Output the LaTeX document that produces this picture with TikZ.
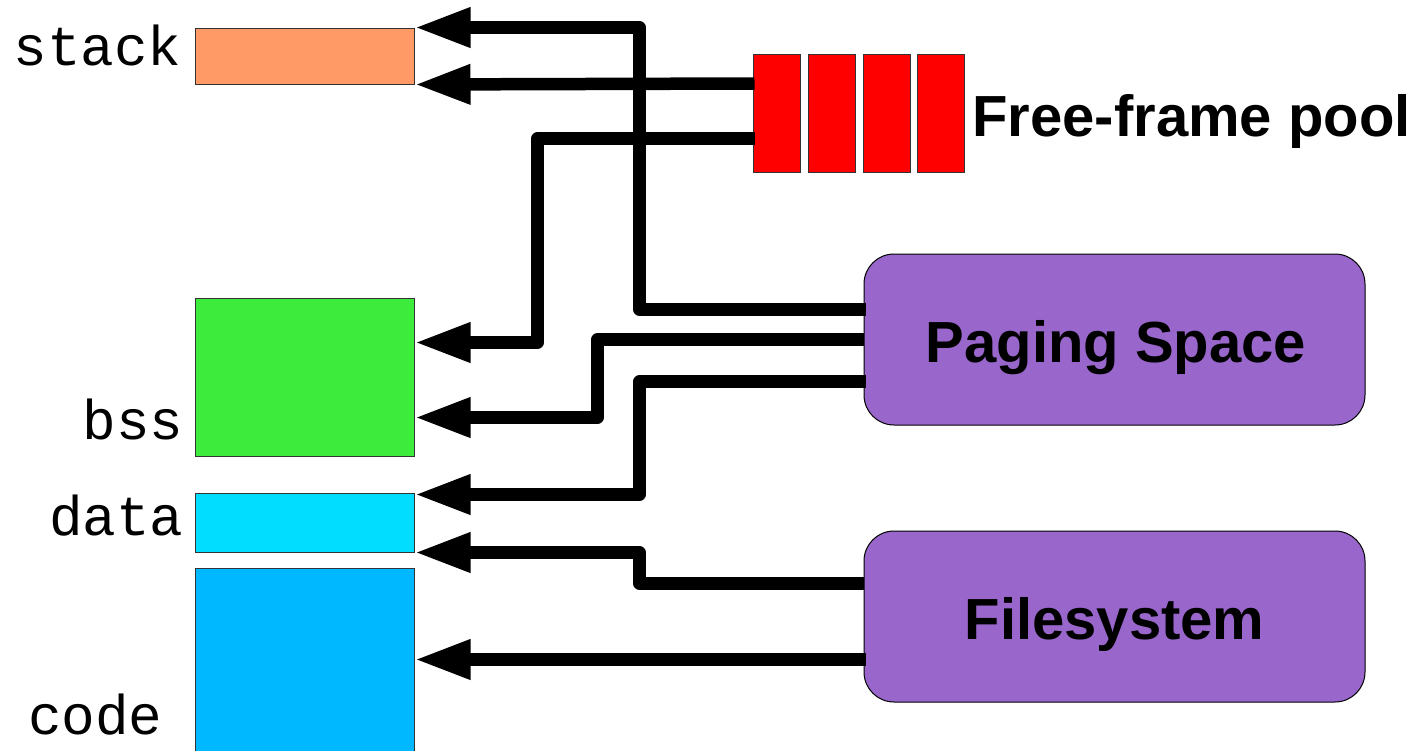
\documentclass[tikz,border=0pt]{standalone}
\usepackage{fontspec}
\setmainfont{Liberation Sans}
\newfontfamily\labmono{Liberation Mono}
\usetikzlibrary{arrows.meta,calc}
\definecolor{cstack}{HTML}{FF9966}
\definecolor{cbss}{HTML}{3DEB3D}
\definecolor{cdata}{HTML}{00DDFF}
\definecolor{ccode}{HTML}{00B8FF}
\definecolor{cpurple}{HTML}{9966CC}
\definecolor{cred}{HTML}{FF0000}
\definecolor{cborder}{HTML}{333333}
\begin{document}
\begin{tikzpicture}[x=0.5pt,y=-0.5pt,
  seg/.style={draw=cborder,line width=0.5pt,inner sep=0pt,minimum width=109.5pt},
  frame/.style={draw=cborder,line width=0.5pt,fill=cred,inner sep=0pt,minimum width=23.5pt,minimum height=59pt},
  store/.style={draw=black,line width=0.5pt,fill=cpurple,rounded corners=15pt,inner sep=0pt,minimum width=250.5pt,minimum height=85.5pt},
  memlabel/.style={font=\labmono\fontsize{28pt}{30pt}\selectfont,inner sep=0pt,anchor=base east},
  biglabel/.style={font=\bfseries\fontsize{29pt}{31pt}\selectfont,inner sep=0pt},
  conn/.style={line width=6.25pt,line join=round,-{Triangle[length=28pt,width=18.5pt]}}]
\useasboundingbox (0,0) rectangle (1414,750);
% memory segments
\node[seg,fill=cstack,minimum height=28pt] (stack) at (304.5,56) {};
\node[seg,fill=cbss,minimum height=79pt] (bss) at (304.5,377) {};
\node[seg,fill=cdata,minimum height=29.5pt] (data) at (304.5,522.5) {};
\node[seg,fill=ccode,minimum height=96pt] (code) at (304.5,664) {};
% segment labels
\node[memlabel] (lstack) at (182,65) {stack};
\node[memlabel] (lbss) at (184,439) {bss};
\node[memlabel] (ldata) at (184,535) {data};
\node[memlabel] (lcode) at (163,734) {code};
% free-frame pool
\node[frame] (p1) at (776.5,113) {};
\node[frame] (p2) at (832,113) {};
\node[frame] (p3) at (886.5,113) {};
\node[frame] (p4) at (941,113) {};
\node[biglabel,anchor=base west] (lpool) at (972,136) {Free-frame pool};
% backing stores
\node[store] (paging) at (1114.5,339.5) {};
\node[biglabel,anchor=base] (lpaging) at (1116,362) {Paging Space};
\node[store] (fs) at (1114.5,616.5) {};
\node[biglabel,anchor=base] (lfs) at (1114.5,639) {Filesystem};
% connectors
\draw[conn] ($(paging.north west)+(2,56)$) -| ($(stack.north east)+(225,0)$) -- (stack.north east);
\draw[conn] ($(p1.north west)+(2,30)$) -- (stack.south east);
\draw[conn] ($(p1.north west)+(2,85)$) -| ($(bss.north east)+(123,45)$) -- ($(bss.north east)+(0,45)$);
\draw[conn] ($(paging.north west)+(0,86)$) -| ($(bss.north east)+(183,120)$) -- ($(bss.north east)+(0,120)$);
\draw[conn] ($(paging.north west)+(2,128)$) -| ($(data.north east)+(225,2)$) -- ($(data.north east)+(0,2)$);
\draw[conn] ($(fs.north west)+(0,53)$) -| ($(data.south east)+(225,0)$) -- (data.south east);
\draw[conn] ($(fs.north west)+(2,129)$) -- ($(code.north east)+(0,92)$);
\end{tikzpicture}
\end{document}
